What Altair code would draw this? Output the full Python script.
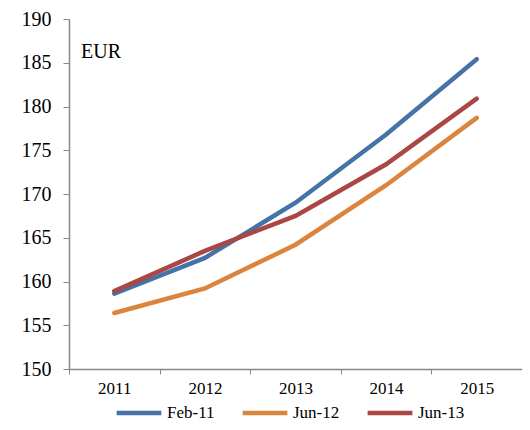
import altair as alt
import pandas as pd

years = ["2011", "2012", "2013", "2014", "2015"]
series_names = ["Feb-11", "Jun-12", "Jun-13"]
feb11 = [158.6, 162.7, 169.0, 176.8, 185.4]
jun12 = [156.4, 159.2, 164.2, 171.0, 178.7]
jun13 = [158.9, 163.5, 167.5, 173.4, 180.9]
colors = ["#4572A7", "#DB843D", "#AA4643"]

rows = []
for name, vals in zip(series_names, [feb11, jun12, jun13]):
    for y, v in zip(years, vals):
        rows.append({"year": y, "series": name, "value": v})
df = pd.DataFrame(rows)

FONT = "Liberation Serif"

lines = alt.Chart(df).mark_line(strokeWidth=4.5, strokeCap="round").encode(
    x=alt.X("year:O", scale=alt.Scale(type="band", paddingInner=0, paddingOuter=0),
            axis=alt.Axis(title=None, tickBand="extent", labelAngle=0, labelFont=FONT,
                          labelFontSize=17, labelColor="black", domainColor="#888888",
                          tickColor="#888888", tickSize=5, labelPadding=6, domainWidth=1.5)),
    y=alt.Y("value:Q", scale=alt.Scale(domain=[150, 190], nice=False, zero=False),
            axis=alt.Axis(title=None, values=[150, 155, 160, 165, 170, 175, 180, 185, 190],
                          grid=False, labelFont=FONT, labelFontSize=20, labelColor="black",
                          domainColor="#888888", tickColor="#888888", tickSize=6,
                          labelPadding=12, domainWidth=1.5)),
    color=alt.Color("series:N", scale=alt.Scale(domain=series_names, range=colors),
                    legend=alt.Legend(title=None, orient="none", direction="horizontal",
                                      legendX=45, legendY=369, symbolType="stroke",
                                      symbolSize=2000, symbolStrokeWidth=4.5,
                                      labelFont=FONT, labelFontSize=17, labelColor="black",
                                      labelFontWeight="normal",
                                      columnPadding=18, labelOffset=3, padding=0)),
)

label = alt.Chart(pd.DataFrame({"t": ["EUR"]})).mark_text(
    font=FONT, fontSize=20, align="left", baseline="alphabetic", color="black"
).encode(x=alt.value(12), y=alt.value(39), text="t:N")

chart = alt.layer(lines, label).properties(
    width=453, height=350,
    autosize=alt.AutoSizeParams(type="none"),
    padding={"left": 61, "top": 11, "right": 0, "bottom": 53},
).configure_view(stroke=None)

chart.save("out.html", embed_options={"renderer": "svg", "actions": False})
